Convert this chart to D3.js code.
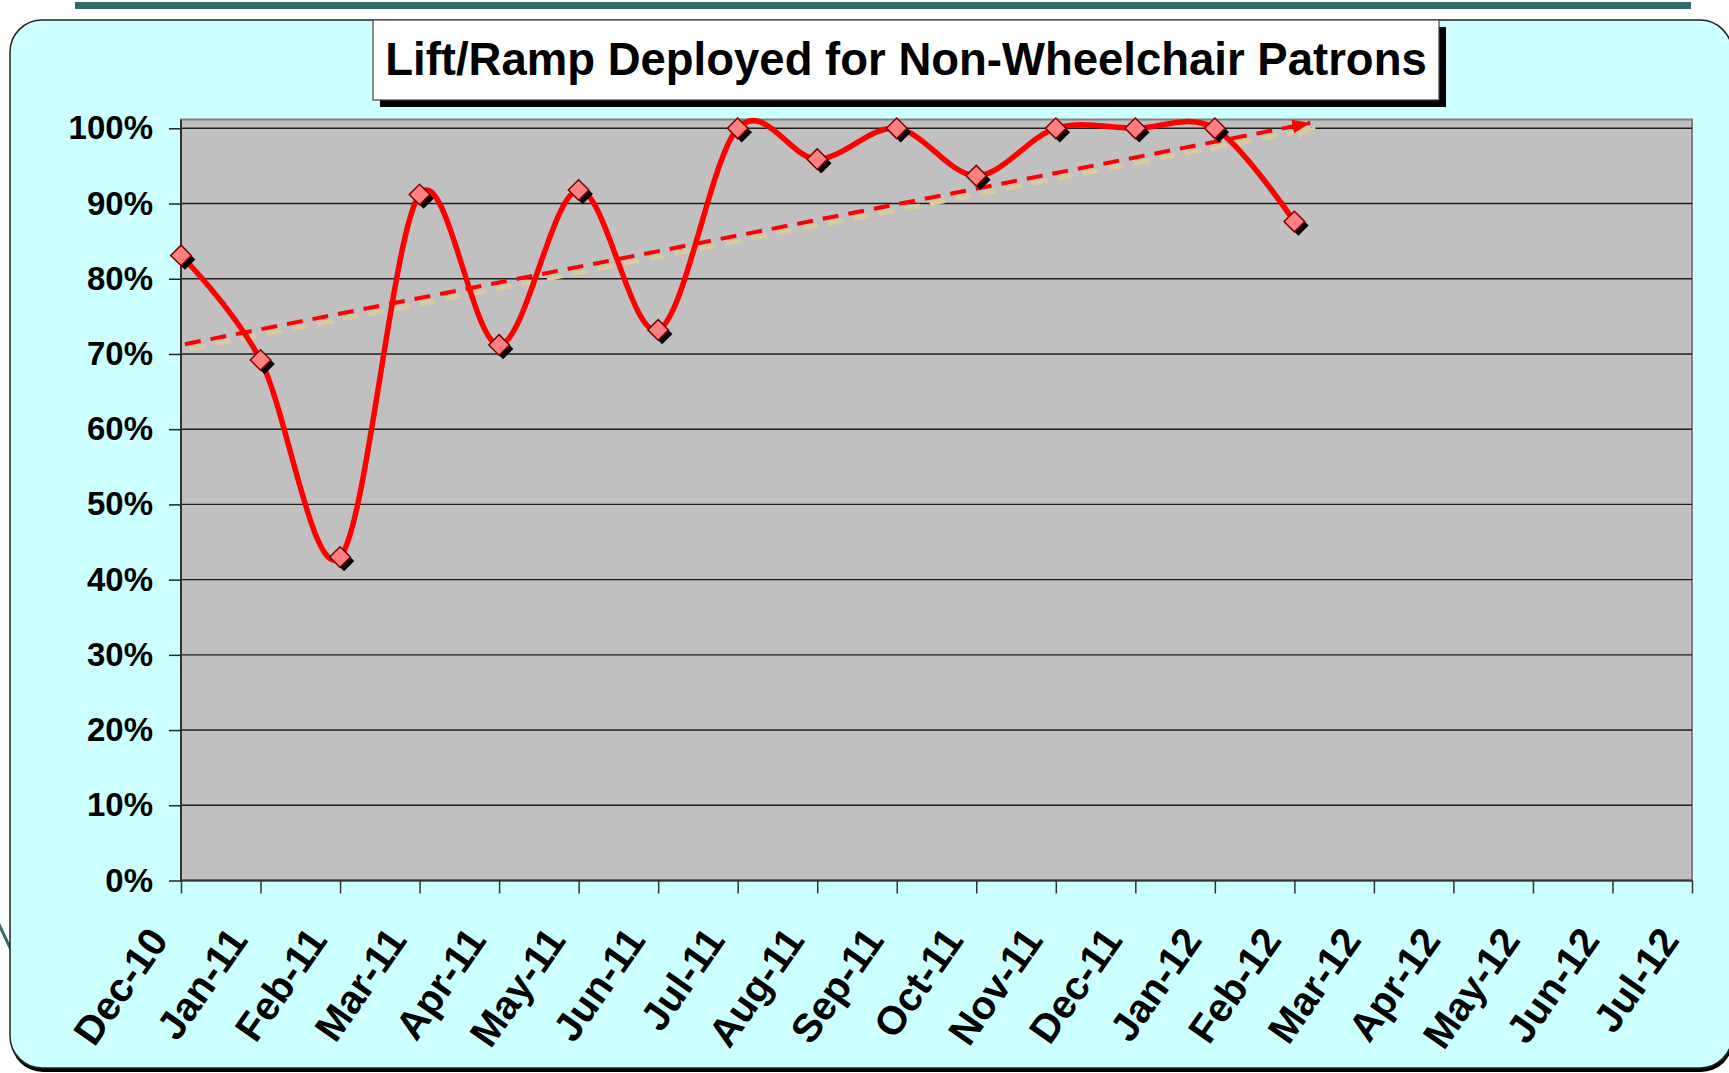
<!DOCTYPE html>
<html>
<head>
<meta charset="utf-8">
<title>Lift/Ramp Deployed for Non-Wheelchair Patrons</title>
<script src="https://cdn.jsdelivr.net/npm/d3@7"></script>
<style>
  html, body { margin: 0; padding: 0; background: #ffffff; }
  svg { display: block; }
  text { font-family: "Liberation Sans", Arial, sans-serif; font-weight: bold; fill: #000; }
</style>
</head>
<body>
<script>
// Monthly categories on the x axis
const months = ["Dec-10", "Jan-11", "Feb-11", "Mar-11", "Apr-11", "May-11", "Jun-11",
  "Jul-11", "Aug-11", "Sep-11", "Oct-11", "Nov-11", "Dec-11", "Jan-12",
  "Feb-12", "Mar-12", "Apr-12", "May-12", "Jun-12", "Jul-12"];

// Share of trips with the lift/ramp deployed for non-wheelchair patrons (Dec-10 .. Feb-12)
const deployedShare = [0.831, 0.692, 0.43, 0.912, 0.712, 0.918, 0.732,
  1.0, 0.959, 1.0, 0.937, 1.0, 1.0, 1.0, 0.876];

// Trend arrow: month index and value at its two ends
const trendMonths = [0, 14.2];
const trendValues = [0.712, 1.007];

// Y axis ticks
const yTicks = [0, 0.1, 0.2, 0.3, 0.4, 0.5, 0.6, 0.7, 0.8, 0.9, 1.0];

const chartTitle = "Lift/Ramp Deployed for Non-Wheelchair Patrons";

const W = 1729, H = 1073;
const plot = { left: 181, right: 1692, top: 119.5, bottom: 880.5, y100: 128.3 };
const FONT = "'Liberation Sans', Arial, sans-serif";

const svg = d3.select("body").append("svg")
  .attr("width", W).attr("height", H)
  .attr("viewBox", `0 0 ${W} ${H}`);

// ----- slide decoration -----
svg.append("rect").attr("x", 75).attr("y", 2).attr("width", 1616).attr("height", 7)
  .attr("fill", "#356a6a");
svg.append("line").attr("x1", -4).attr("y1", 918).attr("x2", 14).attr("y2", 956)
  .attr("stroke", "#356a6a").attr("stroke-width", 3);

// rounded chart panel with a heavier bottom edge
svg.append("rect").attr("x", 11).attr("y", 23).attr("width", 1722).attr("height", 1049)
  .attr("rx", 32).attr("ry", 32).attr("fill", "#000");
svg.append("rect").attr("x", 10).attr("y", 20).attr("width", 1722).attr("height", 1048)
  .attr("rx", 32).attr("ry", 32).attr("fill", "#ccffff")
  .attr("stroke", "#222").attr("stroke-width", 1.5);

// ----- scales -----
const x = d3.scaleLinear().domain([0, months.length - 1]).range([plot.left, plot.right]);
const y = d3.scaleLinear().domain([0, 1]).range([plot.bottom, plot.y100]);

// plot area
svg.append("rect")
  .attr("x", plot.left).attr("y", plot.top)
  .attr("width", plot.right - plot.left).attr("height", plot.bottom - plot.top)
  .attr("fill", "#c0c0c0").attr("stroke", "#808080").attr("stroke-width", 2);

// gridlines
svg.append("g").selectAll("line").data(yTicks.slice(1)).join("line")
  .attr("x1", plot.left).attr("x2", plot.right)
  .attr("y1", d => y(d)).attr("y2", d => y(d))
  .attr("stroke", "#1e1e1e").attr("stroke-width", 1.4);

// ----- axes -----
const yAxis = svg.append("g").attr("transform", `translate(${plot.left},0)`)
  .call(d3.axisLeft(y).tickValues(yTicks).tickFormat(d3.format(".0%"))
    .tickSize(12).tickPadding(16));
yAxis.select(".domain").attr("stroke", "#333").attr("stroke-width", 2)
  .attr("d", `M0,${plot.top}V${plot.bottom}`);
yAxis.selectAll(".tick line").attr("stroke", "#222").attr("stroke-width", 1.5);
yAxis.selectAll(".tick text")
  .style("font-family", FONT)
  .style("font-weight", "bold").style("font-size", "33px").attr("fill", "#000");

const xAxis = svg.append("g").attr("transform", `translate(0,${plot.bottom})`)
  .call(d3.axisBottom(x).tickValues(d3.range(months.length))
    .tickFormat(i => months[i]).tickSize(13));
xAxis.select(".domain").attr("stroke", "#333").attr("stroke-width", 2)
  .attr("d", `M${plot.left},0H${plot.right}`);
xAxis.selectAll(".tick line").attr("stroke", "#333").attr("stroke-width", 1.5);
xAxis.selectAll(".tick text")
  .style("font-family", FONT)
  .style("font-weight", "bold").style("font-size", "40px").attr("fill", "#000")
  .attr("text-anchor", "end")
  .attr("dy", 0)
  .attr("y", 0)
  .attr("transform", "translate(-12,60) rotate(-55)");

// ----- trend arrow (shadow first, then red dashes) -----
const defs = svg.append("defs");
function arrowHead(id, color) {
  defs.append("marker").attr("id", id)
    .attr("markerUnits", "userSpaceOnUse")
    .attr("viewBox", "0 0 18 14").attr("refX", 18).attr("refY", 7)
    .attr("markerWidth", 18).attr("markerHeight", 14)
    .attr("orient", "auto")
    .append("path").attr("d", "M0,0L18,7L0,14Z").attr("fill", color);
}
arrowHead("trendHead", "#ff0000");
arrowHead("trendHeadShadow", "#d6cd9c");

const trendPts = trendMonths.map((m, i) => [x(m), y(trendValues[i])]);
const trendLine = d3.line();
svg.append("path").attr("d", trendLine(trendPts))
  .attr("transform", "translate(5,5)")
  .attr("fill", "none").attr("stroke", "#d6cd9c").attr("stroke-width", 4.5)
  .attr("stroke-dasharray", "16,10").attr("stroke-dashoffset", -4)
  .attr("marker-end", "url(#trendHeadShadow)");
svg.append("path").attr("d", trendLine(trendPts))
  .attr("fill", "none").attr("stroke", "#ff0000").attr("stroke-width", 4)
  .attr("stroke-dasharray", "16,10").attr("stroke-dashoffset", -4)
  .attr("marker-end", "url(#trendHead)");

// ----- smoothed data line -----
const line = d3.line()
  .x((d, i) => x(i)).y(d => y(d))
  .curve(d3.curveCardinal.tension(0));
svg.append("path").datum(deployedShare).attr("d", line)
  .attr("fill", "none").attr("stroke", "#ff0000").attr("stroke-width", 5.5)
  .attr("stroke-linejoin", "round");

// ----- diamond markers with drop shadow -----
const diamond = d3.symbol().type(d3.symbolDiamond2).size(270);
const pts = svg.append("g");
pts.selectAll(".shadow").data(deployedShare).join("path").attr("class", "shadow")
  .attr("d", diamond)
  .attr("transform", (d, i) => `translate(${x(i) + 4},${y(d) + 4})`)
  .attr("fill", "#000");
pts.selectAll(".mark").data(deployedShare).join("path").attr("class", "mark")
  .attr("d", diamond)
  .attr("transform", (d, i) => `translate(${x(i)},${y(d)})`)
  .attr("fill", "#ff8080").attr("stroke", "#800000").attr("stroke-width", 1.5);

// ----- title box -----
const tb = { x: 373, y: 20, w: 1066, h: 80 };
svg.append("rect").attr("x", tb.x + 7).attr("y", tb.y + 7).attr("width", tb.w).attr("height", tb.h)
  .attr("fill", "#000");
svg.append("rect").attr("x", tb.x).attr("y", tb.y).attr("width", tb.w).attr("height", tb.h)
  .attr("fill", "#fff").attr("stroke", "#444").attr("stroke-width", 1.2);
svg.append("text").attr("x", tb.x + tb.w / 2).attr("y", 75)
  .attr("text-anchor", "middle").style("font-size", "45.5px")
  .text(chartTitle);
</script>
</body>
</html>
